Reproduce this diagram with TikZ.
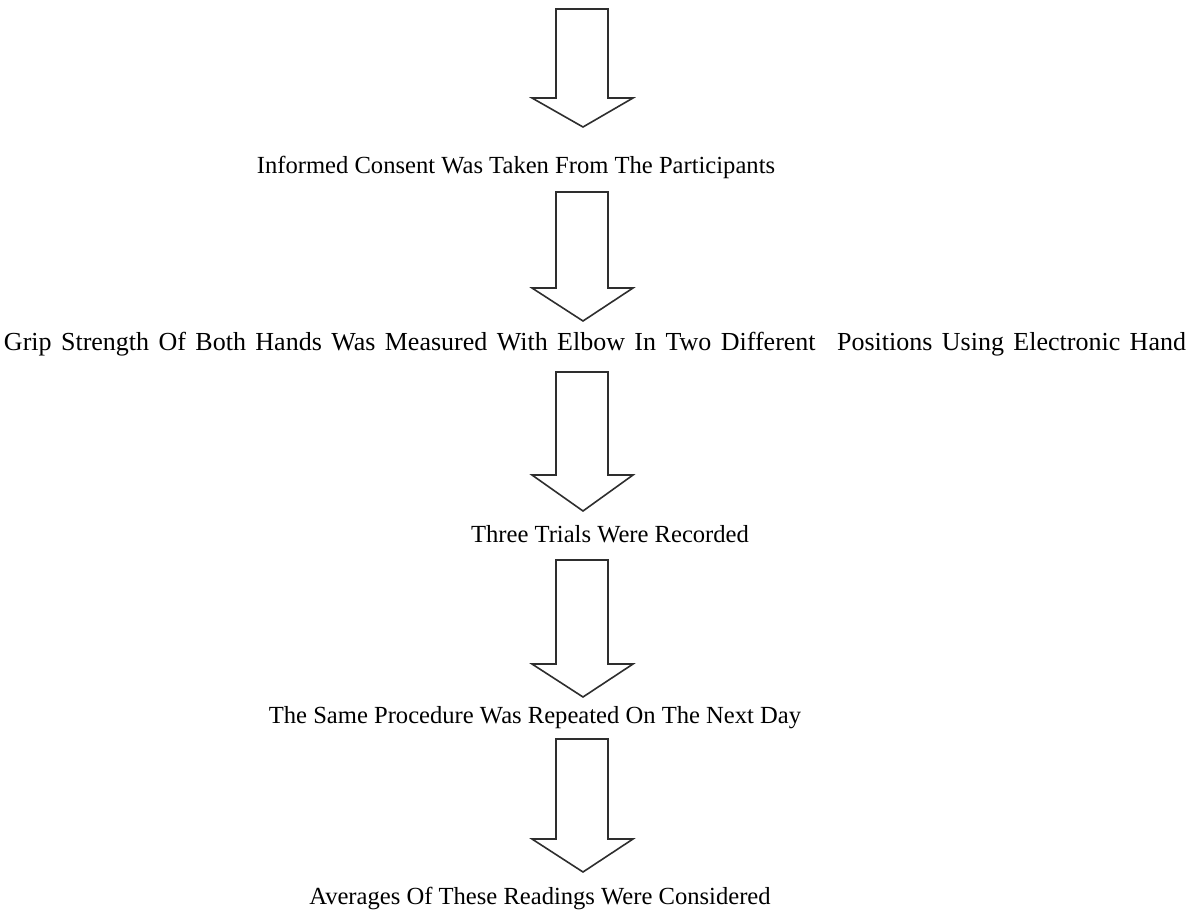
\documentclass[tikz,border=0pt]{standalone}
\usepackage{fontspec}
\setmainfont{Liberation Serif}
\newcommand\blkarrow[3]{%
  \draw[blockarrow] (556,#1) -- (608,#1) -- (608,#2) -- (633,#2) -- (583,#3) -- (532,#2) -- (556,#2) -- cycle;}
\begin{document}
\begin{tikzpicture}[x=1pt,y=-1pt,
  blockarrow/.style={draw=black!82,line width=1.6pt,line join=miter,fill=white},
  steptext/.style={anchor=base,inner sep=0pt,font=\fontsize{24.6}{30}\selectfont}]
\useasboundingbox (0,0) rectangle (1189,918);
\blkarrow{9}{98}{127}
\node[steptext] (s1) at (516,173) {Informed Consent Was Taken From The Participants};
\blkarrow{192}{288}{321}
\node[steptext,font=\fontsize{26}{30}\selectfont] (s2) at (595,350) {\makebox[1182pt][s]{Grip Strength Of Both Hands Was Measured With Elbow In Two Different\hspace{12pt} Positions Using Electronic Hand}};
\blkarrow{372}{475}{511}
\node[steptext] (s3) at (610,542) {Three Trials Were Recorded};
\blkarrow{560}{664}{697}
\node[steptext] (s4) at (535,723) {The Same Procedure Was Repeated On The Next Day};
\blkarrow{739}{839}{872}
\node[steptext] (s5) at (540,904) {Averages Of These Readings Were Considered};
\end{tikzpicture}
\end{document}
